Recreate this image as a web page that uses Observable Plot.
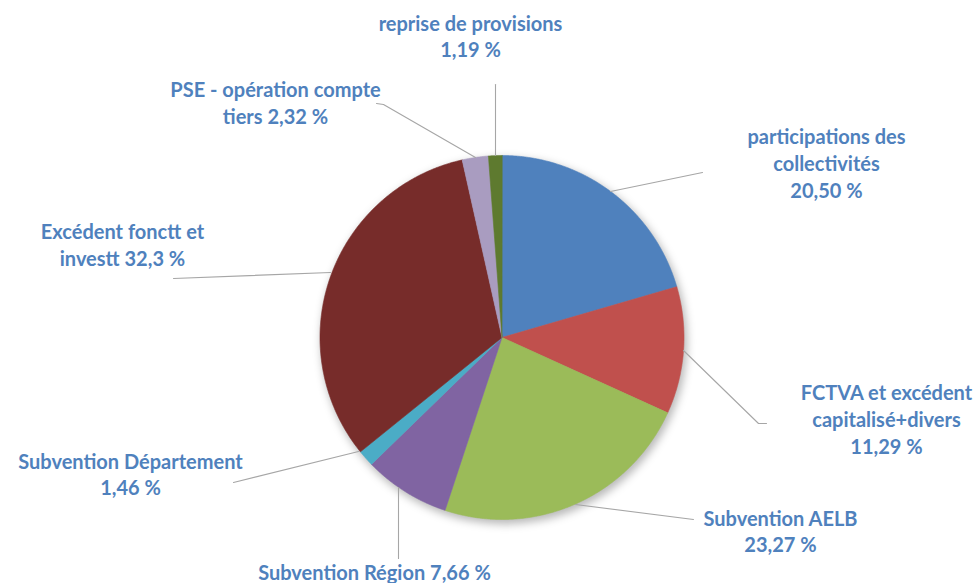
<!DOCTYPE html>
<html><head><meta charset="utf-8">
<script src="https://cdn.jsdelivr.net/npm/d3@7"></script>
<script src="https://cdn.jsdelivr.net/npm/@observablehq/plot@0.6"></script>
<style>body{margin:0;background:#fff}</style>
</head><body><div id="chart"></div>
<script>
// ---- data ----
const categories = ["participations des collectivités","FCTVA et excédent capitalisé+divers","Subvention AELB","Subvention Région","Subvention Département","Excédent fonctt et investt","PSE - opération compte tiers","reprise de provisions"];
const values = [20.50, 11.29, 23.27, 7.66, 1.46, 32.3, 2.32, 1.19];
const valueLabels = ["20,50 %","11,29 %","23,27 %","7,66 %","1,46 %","32,3 %","2,32 %","1,19 %"];
const labelTexts = [
  "participations des\ncollectivités\n20,50 %",
  "FCTVA et excédent\ncapitalisé+divers\n11,29 %",
  "Subvention AELB\n23,27 %",
  "Subvention Région 7,66 %",
  "Subvention Département\n1,46 %",
  "Excédent fonctt et\ninvestt 32,3 %",
  "PSE - opération compte\ntiers 2,32 %",
  "reprise de provisions\n1,19 %"
];
const colors = ["#4F81BD","#C0504D","#9BBB59","#8064A2","#4BACC6","#772C2A","#A99CC0","#5E7A2F"];

// ---- layout (pixels) ----
const cx = 501.5, cy = 337, R = 182;
const labelPos = [[826,162],[886,418],[780,530],[374,571],[130,473],[122,243.5],[275,101.5],[470,35]];
const leaderPaths = [
  [[610,191],[702,172]],
  [[683,350],[758,423],[766,423]],
  [[575,504],[693,519]],
  [[398,487],[398,558]],
  [[358,451],[233,482]],
  [[330,272],[173,278]],
  [[475,157],[383,104],[376,103]],
  [[495,155],[495,84]]
];

const toX = px => (px - cx) / R;
const toY = py => (cy - py) / R;

const data = categories.map((name, i) => ({name, value: values[i]}));
const arcs = d3.pie().sort(null).value(d => d.value)(data);
const slicePts = [];
arcs.forEach(a => {
  const name = a.data.name;
  slicePts.push({name, x: 0, y: 0});
  const n = Math.max(2, Math.ceil((a.endAngle - a.startAngle) / 0.005));
  for (let k = 0; k <= n; k++) {
    const t = a.startAngle + (a.endAngle - a.startAngle) * k / n;
    slicePts.push({name, x: Math.sin(t), y: Math.cos(t)});
  }
});

const labelData = labelTexts.map((t, i) => ({text: t, x: toX(labelPos[i][0]), y: toY(labelPos[i][1])}));
const leaderPts = [];
leaderPaths.forEach((p, i) => p.forEach(([px, py]) => leaderPts.push({id: i, x: toX(px), y: toY(py)})));

const chart = Plot.plot({
  width: 978, height: 583,
  marginTop: 0, marginRight: 0, marginBottom: 0, marginLeft: 0,
  x: {domain: [-1, 1], range: [cx - R, cx + R], axis: null},
  y: {domain: [-1, 1], range: [cy + R, cy - R], axis: null},
  color: {domain: categories, range: colors},
  marks: [
    Plot.dot([{x: 0.012, y: -0.02}], {x: "x", y: "y", r: R + 1, fill: "#000", fillOpacity: 0.28, stroke: "none"}),
    Plot.line(slicePts, {x: "x", y: "y", z: "name", fill: "name", stroke: "name", strokeWidth: 0.6, curve: "linear-closed"}),
    Plot.line(leaderPts, {x: "x", y: "y", z: "id", stroke: "#A6A6A6", strokeWidth: 1.1}),
    Plot.text(labelData, {x: "x", y: "y", text: "text", fill: "#4F81BD", fontSize: 20, fontWeight: "bold", fontFamily: "Lato", lineHeight: 1.33, textAnchor: "middle"})
  ]
});
const shadow = chart.querySelector('g[aria-label="dot"]');
if (shadow) shadow.style.filter = "blur(4px)";
document.getElementById("chart").appendChild(chart);
</script>
</body></html>
